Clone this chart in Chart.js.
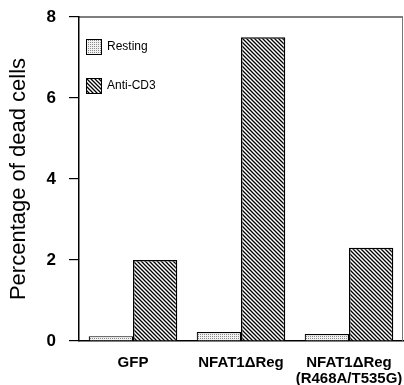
<!DOCTYPE html>
<html>
<head>
<meta charset="utf-8">
<script src="https://cdn.jsdelivr.net/npm/chart.js@4/dist/chart.umd.min.js"></script>
<style>
  html, body { margin: 0; padding: 0; background: #fff; }
  #wrap { width: 404px; height: 385px; }
</style>
</head>
<body>
<div id="wrap"><canvas id="deadChart" width="404" height="385"></canvas></div>
<script>
const categories = [["GFP"], ["NFAT1\u0394Reg"], ["NFAT1\u0394Reg", "(R468A/T535G)"]];
const resting = [0.12, 0.22, 0.17];
const antiCD3 = [2.0, 7.5, 2.3];
const yTicks = [0, 2, 4, 6, 8];

// stipple fill for "Resting"
function dotPattern() {
	const c = document.createElement('canvas');
	c.width = 2; c.height = 2;
	const g = c.getContext('2d');
	g.fillStyle = '#f2f2f2';
	g.fillRect(0, 0, 2, 2);
	g.fillStyle = '#8a8a8a';
	g.fillRect(0, 0, 1, 1);
	return g.createPattern(c, 'repeat');
}

// diagonal hatch for "Anti-CD3"
function hatchPattern() {
	const c = document.createElement('canvas');
	c.width = 4; c.height = 4;
	const g = c.getContext('2d');
	g.fillStyle = '#fff';
	g.fillRect(0, 0, 4, 4);
	g.strokeStyle = '#000';
	g.lineWidth = 1.3;
	g.beginPath();
	g.moveTo(-1, -1); g.lineTo(5, 5);
	g.moveTo(-1, 3); g.lineTo(1, 5);
	g.moveTo(3, -1); g.lineTo(5, 1);
	g.stroke();
	return g.createPattern(c, 'repeat');
}

const dots = dotPattern();
const hatch = hatchPattern();

// legend inside the plot + top/right frame
const frameAndLegend = {
	id: 'frameAndLegend',
	afterDraw(chart) {
		const ctx = chart.ctx;
		const a = chart.chartArea;
		ctx.save();
		ctx.strokeStyle = '#000';
		ctx.lineWidth = 1.2;
		ctx.beginPath();
		ctx.moveTo(a.left, a.top);
		ctx.lineTo(a.right, a.top);
		ctx.stroke();
		ctx.strokeStyle = '#777';
		ctx.lineWidth = 1;
		ctx.beginPath();
		ctx.moveTo(a.right - 0.5, a.top);
		ctx.lineTo(a.right - 0.5, a.bottom);
		ctx.stroke();

		const items = [
			{ text: 'Resting', fill: dots, y: 47 },
			{ text: 'Anti-CD3', fill: hatch, y: 86 }
		];
		ctx.font = '12px "Liberation Sans", Arial, sans-serif';
		ctx.textBaseline = 'middle';
		ctx.textAlign = 'left';
		items.forEach(it => {
			ctx.fillStyle = it.fill;
			ctx.fillRect(86, it.y - 8, 16, 16);
			ctx.strokeStyle = '#000';
			ctx.lineWidth = 1;
			ctx.strokeRect(86.5, it.y - 7.5, 15, 15);
			ctx.fillStyle = '#000';
			ctx.fillText(it.text, 107, it.y);
		});
		ctx.restore();
	}
};

const config = {
	type: 'bar',
	data: {
		labels: categories,
		datasets: [
			{
				label: 'Resting',
				data: resting,
				backgroundColor: dots,
				borderColor: '#000',
				borderWidth: 1.2
			},
			{
				label: 'Anti-CD3',
				data: antiCD3,
				backgroundColor: hatch,
				borderColor: '#000',
				borderWidth: 1.5
			}
		]
	},
	options: {
		responsive: false,
		animation: false,
		layout: { padding: { top: 17, right: 1, left: 0, bottom: 0 } },
		categoryPercentage: 0.82,
		barPercentage: 1.0,
		plugins: {
			legend: { display: false },
			tooltip: { enabled: false }
		},
		scales: {
			x: {
				grid: { display: false },
				border: { color: '#000', width: 1.5 },
				ticks: {
					color: '#000',
					padding: 6,
					autoSkip: false,
					maxRotation: 0,
					minRotation: 0,
					font: { family: '"Liberation Sans", Arial, sans-serif', size: 15, weight: 'bold', lineHeight: 1.08 }
				},
				afterFit(scale) {
					scale.height = 44;
					scale.paddingLeft = 0;
					scale.paddingRight = 0;
				}
			},
			y: {
				min: 0,
				max: 8,
				afterBuildTicks(scale) { scale.ticks = yTicks.map(v => ({ value: v })); },
				grid: { drawOnChartArea: false, tickLength: 10, color: '#000', lineWidth: 1.2 },
				border: { color: '#000', width: 1.5 },
				ticks: {
					color: '#000',
					padding: 13,
					font: { family: '"Liberation Sans", Arial, sans-serif', size: 17, weight: 'bold' }
				},
				title: {
					display: true,
					text: 'Percentage of dead cells',
					color: '#000',
					padding: { top: 6, bottom: 0 },
					font: { family: '"Liberation Sans", Arial, sans-serif', size: 22 }
				},
				afterFit(scale) {
					scale.width = 79;
					scale.paddingTop = 0;
					scale.paddingBottom = 0;
				}
			}
		}
	},
	plugins: [frameAndLegend]
};

const deadChart = new Chart(document.getElementById('deadChart'), config);
</script>
</body>
</html>
